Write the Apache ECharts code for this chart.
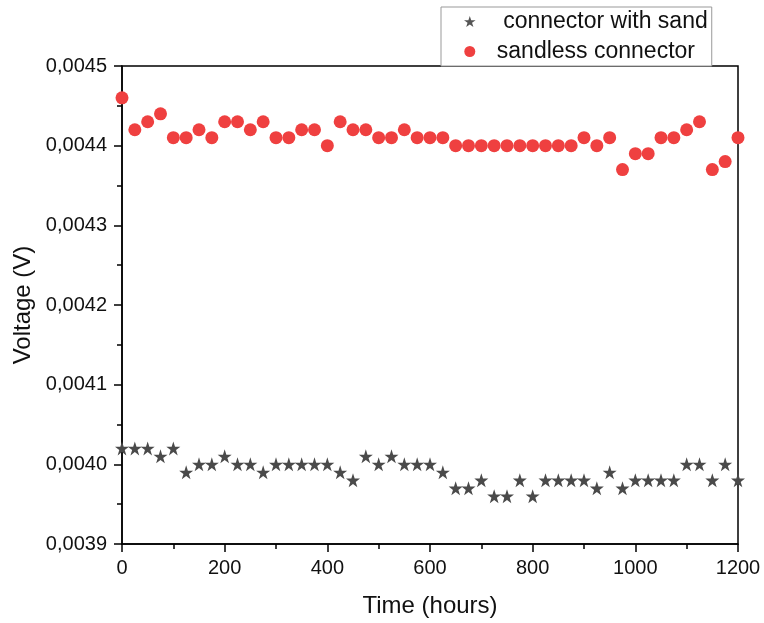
<!DOCTYPE html>
<html>
<head>
<meta charset="utf-8">
<script src="https://cdn.jsdelivr.net/npm/echarts@6/dist/echarts.min.js"></script>
<style>
  html, body { margin: 0; padding: 0; background: #fff; }
  #chart { width: 764px; height: 623px; }
</style>
</head>
<body>
<div id="chart"></div>
<script>
// time in hours, one reading every 25 h
const hours = [];
for (let h = 0; h <= 1200; h += 25) hours.push(h);

// connector with sand (V)
const withSand = [
  0.00402, 0.00402, 0.00402, 0.00401, 0.00402, 0.00399, 0.00400, 0.00400, 0.00401, 0.00400,
  0.00400, 0.00399, 0.00400, 0.00400, 0.00400, 0.00400, 0.00400, 0.00399, 0.00398, 0.00401,
  0.00400, 0.00401, 0.00400, 0.00400, 0.00400, 0.00399, 0.00397, 0.00397, 0.00398, 0.00396,
  0.00396, 0.00398, 0.00396, 0.00398, 0.00398, 0.00398, 0.00398, 0.00397, 0.00399, 0.00397,
  0.00398, 0.00398, 0.00398, 0.00398, 0.00400, 0.00400, 0.00398, 0.00400, 0.00398
];

// sandless connector (V)
const sandless = [
  0.00446, 0.00442, 0.00443, 0.00444, 0.00441, 0.00441, 0.00442, 0.00441, 0.00443, 0.00443,
  0.00442, 0.00443, 0.00441, 0.00441, 0.00442, 0.00442, 0.00440, 0.00443, 0.00442, 0.00442,
  0.00441, 0.00441, 0.00442, 0.00441, 0.00441, 0.00441, 0.00440, 0.00440, 0.00440, 0.00440,
  0.00440, 0.00440, 0.00440, 0.00440, 0.00440, 0.00440, 0.00441, 0.00440, 0.00441, 0.00437,
  0.00439, 0.00439, 0.00441, 0.00441, 0.00442, 0.00443, 0.00437, 0.00438, 0.00441
];

// legend names (first one has a leading space, as in the original)
const nameSand = ' connector with sand';
const nameSandless = 'sandless connector';

const starPath = 'path://M50,0 L61.8,35.5 L99,35.5 L69,57.5 L80.5,93 L50,71 L19.5,93 L31,57.5 L1,35.5 L38.2,35.5 Z';

const chart = echarts.init(document.getElementById('chart'));

const fontFamily = '"Liberation Sans", Arial, sans-serif';
const tickStyle = { color: '#000', width: 1.5 };

const option = {
  animation: false,
  textStyle: { fontFamily: fontFamily },
  grid: {
    left: 122, right: 26, top: 66, bottom: 77,
    show: true, borderColor: '#000', borderWidth: 1.5, backgroundColor: 'transparent'
  },
  legend: {
    left: 441, top: 7,
    orient: 'vertical',
    backgroundColor: '#fff',
    borderColor: '#999', borderWidth: 1,
    padding: [3, 4, 3, 23],
    itemWidth: 12, itemHeight: 11, itemGap: 7,
    textStyle: { fontSize: 23, color: '#111', fontFamily: fontFamily, padding: [0, 0, 0, 16] },
    data: [
      { name: nameSand, icon: starPath, itemStyle: { color: '#555' } },
      { name: nameSandless, icon: 'circle' }
    ]
  },
  xAxis: {
    type: 'value',
    min: 0, max: 1200, interval: 200,
    name: 'Time (hours)',
    nameLocation: 'middle',
    nameGap: 50,
    nameTextStyle: { fontSize: 24, color: '#111' },
    axisLine: { show: true, lineStyle: tickStyle },
    axisTick: { show: true, length: 8, lineStyle: tickStyle },
    minorTick: { show: true, splitNumber: 2, length: 5, lineStyle: tickStyle },
    axisLabel: { fontSize: 20, color: '#111', margin: 14, formatter: (v) => String(v) },
    splitLine: { show: false }
  },
  yAxis: {
    type: 'value',
    min: 0.0039, max: 0.0045, interval: 0.0001,
    name: 'Voltage (V)',
    nameLocation: 'middle',
    nameGap: 87,
    nameTextStyle: { fontSize: 24, color: '#111' },
    axisLine: { show: true, lineStyle: tickStyle },
    axisTick: { show: true, length: 8, lineStyle: tickStyle },
    minorTick: { show: true, splitNumber: 2, length: 5, lineStyle: tickStyle },
    axisLabel: {
      fontSize: 20, color: '#111', margin: 15,
      formatter: (v) => v.toFixed(4).replace('.', ',')
    },
    splitLine: { show: false }
  },
  series: [
    {
      name: nameSand,
      type: 'scatter',
      symbol: starPath,
      symbolSize: 14,
      itemStyle: { color: '#4a4a4a', opacity: 1 },
      data: hours.map((h, i) => [h, withSand[i]]),
      z: 3
    },
    {
      name: nameSandless,
      type: 'scatter',
      symbol: 'circle',
      symbolSize: 13,
      itemStyle: { color: '#ef4040', opacity: 1 },
      data: hours.map((h, i) => [h, sandless[i]]),
      z: 4
    }
  ]
};

chart.setOption(option);
</script>
</body>
</html>
